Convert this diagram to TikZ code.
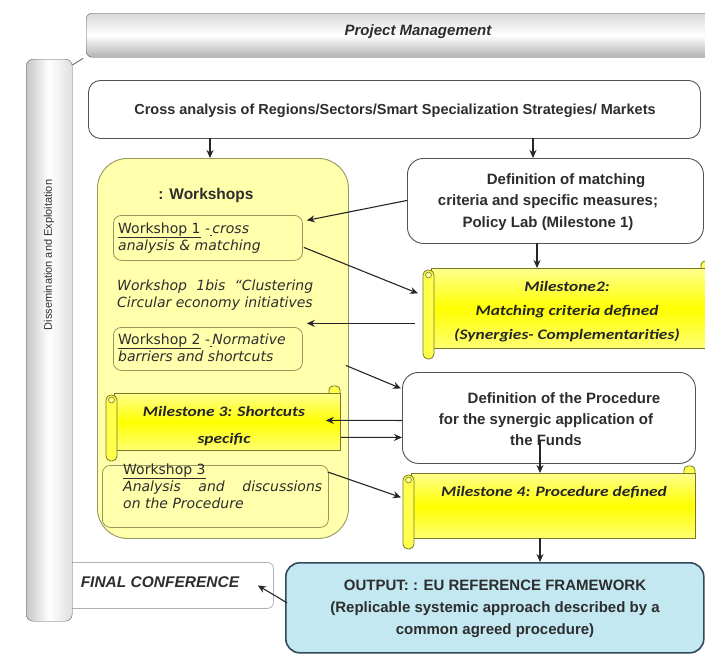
\documentclass[tikz,border=0pt]{standalone}
\usepackage{fontspec}
\setmainfont{Liberation Sans}
\newfontfamily\calfont[FakeStretch=1.2]{Carlito}
\newfontfamily\wsfont{DejaVu Sans}
\usetikzlibrary{calc,arrows.meta}
\definecolor{wsyel}{RGB}{255,255,172}
\definecolor{wsedge}{RGB}{150,150,95}
\definecolor{msyel}{RGB}{255,255,0}
\definecolor{msedge}{RGB}{120,120,40}
\definecolor{outfill}{RGB}{196,232,242}
\definecolor{outedge}{RGB}{50,75,90}
\definecolor{txt}{RGB}{45,45,45}
\tikzset{
  pmbar/.style={draw=gray!70!black, rounded corners=6, top color=gray!30, bottom color=gray!60, middle color=white, inner sep=0},
  lbar/.style={draw=gray!70!black, rounded corners=7, left color=gray!45, right color=gray!25, middle color=white},
  wbox/.style={draw=gray!65!black, rounded corners=14, fill=white, line width=0.9, inner sep=0, anchor=north west},
  wsbig/.style={draw=wsedge, rounded corners=30, fill=wsyel, line width=0.9, inner sep=0, anchor=north west},
  wsin/.style={draw=wsedge, rounded corners=8, line width=0.8, inner sep=0, anchor=north west},
  scrollbody/.style={draw=msedge, line width=0.8, top color=msyel!45, bottom color=msyel!55, middle color=msyel, inner sep=0, anchor=north west},
  scrollpart/.style={draw=msedge, line width=0.8, fill=msyel!70},
  outbox/.style={draw=outedge, rounded corners=14, fill=outfill, line width=1.6, inner sep=0, anchor=north west},
  fcbox/.style={draw=gray!60, rounded corners=6, fill=white, line width=0.8, inner sep=0, anchor=north west},
  arr/.style={-{Stealth[length=8,width=7]}, line width=1.1, black!85},
  wtext/.style={font=\wsfont\fontsize{14}{17}\selectfont, text=txt, align=left, anchor=north west, inner sep=0},
  mtext/.style={font=\calfont\fontsize{14.5}{25}\selectfont\bfseries\itshape, text=black!85, align=center, inner sep=0},
  btext/.style={font=\fontsize{15}{21}\selectfont\bfseries, text=txt, align=center, inner sep=0}
}
\newcommand\mscroll[5]{%
  \draw[scrollpart, rounded corners=4] ({#4-11},{#3-7}) rectangle ({#4},{#3+10});
  \node[scrollbody, minimum width={#4-#2-8}, minimum height={#5-#3}] (#1) at ({#2+8},{#3}) {};
  \draw[scrollpart, rounded corners=5] ({#2},{#3+2}) rectangle ({#2+11},{#5+11});
  \draw[msedge, line width=0.6, fill=msyel!40] ({#2+5.5},{#3+7}) circle (3);
}
\begin{document}
\begin{tikzpicture}[x=1pt,y=-1pt]
\useasboundingbox (0,0) rectangle (705,656);
\fill[white] (0,0) rectangle (705,656);

% final conference (behind the side bar)
\node[fcbox, minimum width=210, minimum height=46] (fc) at (63,562) {};
\node[font=\fontsize{15.5}{18}\selectfont\bfseries\itshape, text=txt] (fct) at (160,582) {FINAL CONFERENCE};

% project management bar and side bar
\node[pmbar, anchor=north west, minimum width=630, minimum height=44] (pm) at (86,13) {};
\node[font=\fontsize{15}{18}\selectfont\bfseries\itshape, text=txt] (pmt) at (418,32) {Project Management};
\node[lbar, anchor=north west, minimum width=46, minimum height=562, inner sep=0] (de) at (26,59) {};
\node[rotate=90, font=\fontsize{11}{13}\selectfont, text=txt] (det) at (49,255) {Dissemination and Exploitation};
\draw[gray!70!black, line width=0.8] ($(de.north east)+(0,6)$) -- ($(pm.south west)+(-3,1)$);

% cross analysis
\node[wbox, minimum width=612, minimum height=58, rounded corners=12] (ca) at (88,80) {};
\node[btext, font=\fontsize{14.5}{17}\selectfont\bfseries] (cat) at (395,111) {Cross analysis of Regions/Sectors/Smart Specialization Strategies/ Markets};

% workshops
\node[wsbig, minimum width=251, minimum height=380] (ws) at (97,158) {};
\node[btext, font=\fontsize{15.5}{18}\selectfont\bfseries] (wst) at (206,195) {: Workshops};
\node[wsin, minimum width=189, minimum height=45] (w1) at (113,215) {};
\node[wtext] (w1t) at (118,222.5) {\underline{Workshop 1} -\underline{\,}\textit{cross}\\\textit{analysis \& matching}};
\node[wtext, text width=196pt, align=justify] (w1b) at (117,279.5) {\itshape Workshop 1bis “Clustering \mbox{Circular} economy initiatives};
\node[wsin, minimum width=189, minimum height=43] (w2) at (113,327) {};
\node[wtext] (w2t) at (118,333.5) {\underline{Workshop 2} -\underline{\,}\textit{Normative}\\\textit{barriers and shortcuts}};
\node[wsin, minimum width=226, minimum height=62] (w3) at (102,465) {};
\node[wtext] (w3t) at (123,463.5) {\underline{Workshop 3}\\\itshape\makebox[199pt][s]{Analysis and discussions}\\\itshape on the Procedure};

% milestone 3
\mscroll{m3}{106}{393}{340}{450}
\node[mtext, font=\calfont\fontsize{14.5}{27}\selectfont\bfseries\itshape] (m3t) at (224,426) {Milestone 3: Shortcuts\\specific};

% definition of matching
\node[wbox, minimum width=296, minimum height=85, rounded corners=16] (dm) at (407,158) {};
\node[btext] (dmt) at (548,202) {\hspace*{2.4em}Definition of matching\\criteria and specific measures;\\[1pt]Policy Lab (Milestone 1)};

% milestone 2
\mscroll{m2}{423}{268}{712}{348}
\node[mtext, font=\calfont\fontsize{14.5}{24}\selectfont\bfseries\itshape] (m2t) at (567,312) {Milestone2:\\Matching criteria defined\\(Synergies- Complementarities)};

% definition of procedure
\node[wbox, minimum width=293, minimum height=91, rounded corners=16] (dp) at (402,372) {};
\node[btext] (dpt) at (546,419) {\hspace*{2.4em}Definition of the Procedure\\for the synergic application of\\the Funds};

% milestone 4
\mscroll{m4}{403}{473}{695}{538}
\node[mtext] (m4t) at (554,492) {Milestone 4: Procedure defined};

% output
\node[outbox, minimum width=418, minimum height=90] (out) at (285,562) {};
\node[btext, font=\fontsize{15}{22}\selectfont\bfseries] (outt) at (495,609) {OUTPUT: : EU REFERENCE FRAMEWORK\\(Replicable systemic approach described by a\\common agreed procedure)};

% connectors
\draw[arr] (210,138) coordinate (c1) -- (c1 |- ws.north);
\draw[arr] (533,138) coordinate (c2) -- (c2 |- dm.north);
\draw[arr] ($(dm.west)+(0,-0.5)$) -- ($(w1.east)+(4,-17.5)$);
\draw[arr] (537,243) coordinate (c4) -- (c4 |- m2.north);
\draw[arr] ($(w1.east)+(1,9.5)$) -- ($(m2.west)+(-13,-15)$);
\draw[arr] ($(m2.west)+(-16,15)$) -- ($(w2.east)+(4,-25.5)$);
\draw[arr] ($(ws.east)+(-3,17)$) -- ($(dp.west)+(-1,-29.5)$);
\draw[arr] ($(dp.west)+(0,2.5)$) -- ($(m3.east)+(-15,-1.5)$);
\draw[arr] ($(m3.east)+(0,15.5)$) -- ($(dp.west)+(0,19.5)$);
\draw[arr] (540,440) coordinate (c5) -- (c5 |- m4.north);
\draw[arr] ($(w3.north east)+(-1,7)$) -- ($(m4.west)+(-10,-8.5)$);
\draw[arr] (540,538) coordinate (c6) -- (c6 |- out.north);
\draw[arr] ($(out.west)+(2,-5)$) -- ($(fc.east)+(-16,0)$);
\end{tikzpicture}
\end{document}
